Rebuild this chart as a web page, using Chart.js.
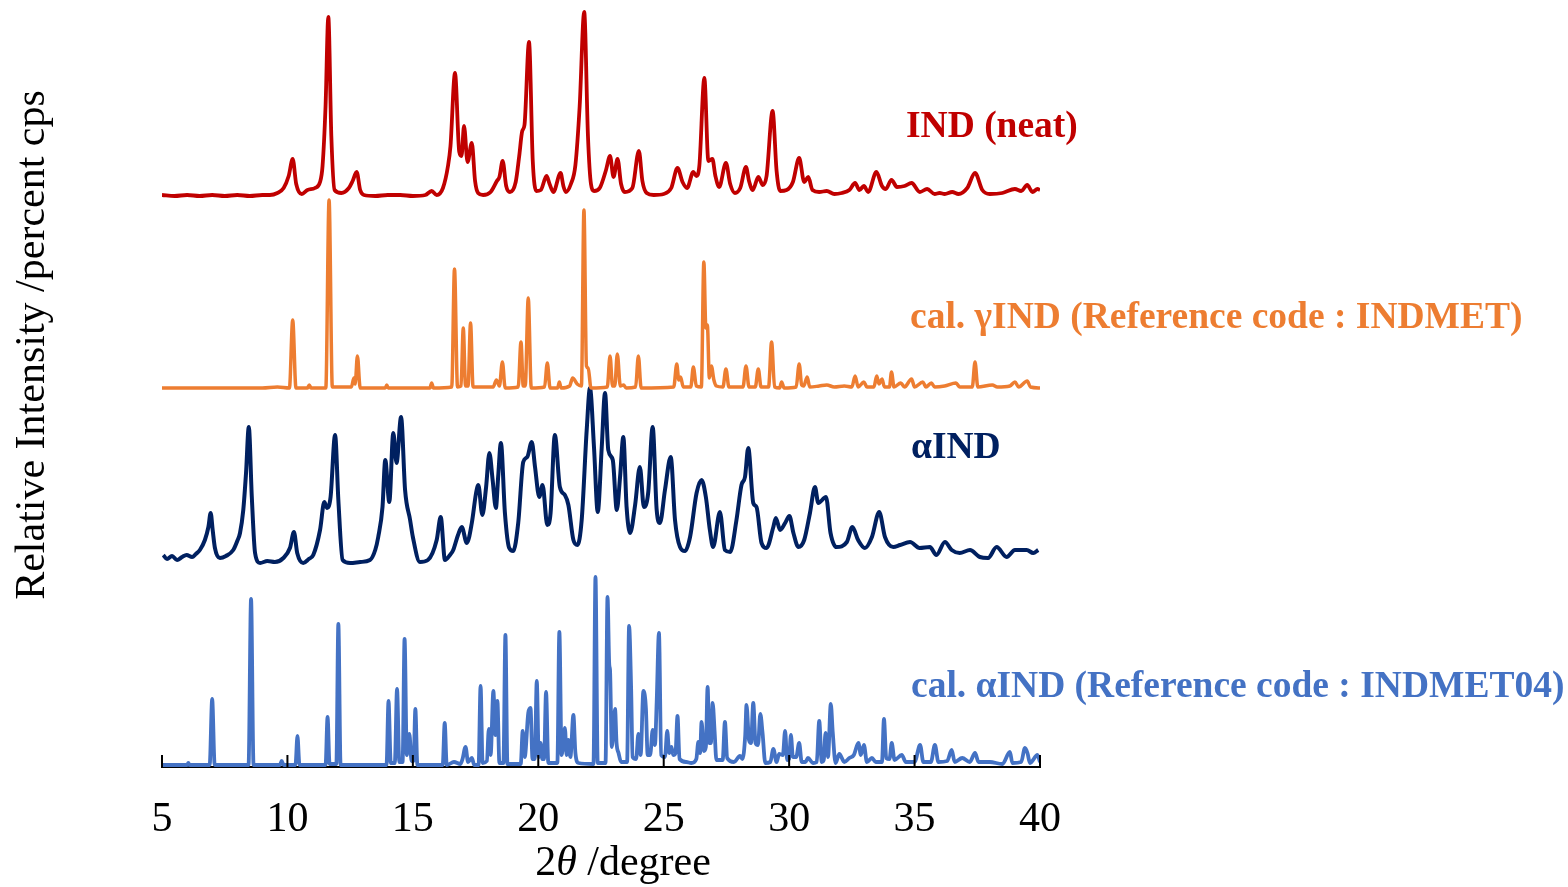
<!DOCTYPE html>
<html>
<head>
<meta charset="utf-8">
<script src="https://cdn.jsdelivr.net/npm/chart.js@4"></script>
<style>
  html, body { margin: 0; padding: 0; background: #fff; }
  #wrap { width: 1568px; height: 887px; position: relative; }
</style>
</head>
<body>
<div id="wrap"><canvas id="xrd"></canvas></div>
<script>
// 2theta (degree), intensity above each pattern's own baseline
const indNeat = [
  [5.0, 1], [5.5, 0], [6.0, 1], [6.5, 0], [7.0, 1], [7.5, 0], [8.0, 1], [8.5, 0], [9.0, 1], [9.3, 1],
  [9.6, 3], [9.85, 8], [10.05, 20], [10.21, 37], [10.35, 12], [10.57, 2], [10.8, 6], [11.1, 8], [11.3, 14],
  [11.4, 30], [11.52, 90], [11.63, 179], [11.75, 60], [11.88, 6], [12.15, 3], [12.45, 8], [12.6, 15],
  [12.76, 24], [12.9, 6], [13.05, 1], [13.5, 0], [14.0, 1], [14.5, 1], [15.0, 0], [15.5, 1], [15.75, 5],
  [15.95, 1], [16.2, 8], [16.4, 30], [16.5, 50], [16.68, 123], [16.85, 44], [16.94, 40], [17.04, 70],
  [17.18, 34], [17.35, 53], [17.48, 15], [17.6, 3], [17.8, 1], [18.1, 4], [18.35, 15], [18.45, 19],
  [18.58, 35], [18.72, 10], [18.87, 4], [19.1, 14], [19.24, 40], [19.36, 65], [19.45, 71], [19.63, 154],
  [19.78, 35], [19.92, 5], [20.1, 6], [20.33, 20], [20.45, 12], [20.6, 4], [20.89, 23], [21.0, 10],
  [21.1, 4], [21.3, 12], [21.48, 31], [21.65, 90], [21.83, 184], [21.98, 60], [22.1, 12], [22.22, 5],
  [22.45, 8], [22.7, 26], [22.86, 40], [23.0, 19], [23.16, 37], [23.3, 12], [23.45, 4], [23.75, 8],
  [24.01, 45], [24.15, 15], [24.32, 3], [24.6, 1], [25.0, 2], [25.3, 8], [25.55, 28], [25.75, 14],
  [25.93, 8], [26.18, 24], [26.3, 20], [26.42, 30], [26.62, 118], [26.78, 35], [26.94, 37], [27.06, 20],
  [27.21, 9], [27.48, 33], [27.65, 12], [27.84, 3], [28.05, 8], [28.28, 29], [28.4, 15], [28.55, 6],
  [28.77, 19], [28.95, 11], [29.1, 20], [29.34, 85], [29.5, 25], [29.64, 5], [29.9, 6], [30.15, 14],
  [30.4, 38], [30.6, 14], [30.76, 19], [30.93, 6], [31.2, 4], [31.5, 5], [31.8, 2], [32.1, 3], [32.4, 6],
  [32.63, 13], [32.8, 6], [32.98, 10], [33.15, 4], [33.48, 24], [33.7, 10], [33.85, 7], [34.08, 16],
  [34.3, 9], [34.6, 10], [34.88, 13], [35.21, 4], [35.5, 7], [35.8, 2], [36.0, 3], [36.2, 2], [36.5, 4],
  [36.75, 2], [37.1, 8], [37.41, 23], [37.7, 6], [38.0, 2], [38.5, 3], [39.0, 7], [39.25, 5], [39.49, 11],
  [39.7, 4], [39.9, 7], [40.0, 6]
];

const calGamma = [
  [5.0, 0], [9.0, 0], [9.6, 1], [10.08, 0], [10.21, 68], [10.34, 0], [10.8, 0], [10.87, 3], [10.94, 0],
  [11.53, 0], [11.66, 188], [11.79, 1], [12.55, 1], [12.65, 10], [12.7, 4], [12.79, 32], [12.9, 0],
  [13.9, 0], [13.96, 3], [14.02, 0], [15.68, 0], [15.75, 5], [15.82, 0],
  [16.55, 1], [16.66, 119], [16.78, 1], [16.92, 2], [17.01, 60], [17.1, 2], [17.2, 2], [17.3, 65],
  [17.4, 1], [18.2, 1], [18.33, 8], [18.45, 2], [18.57, 26], [18.68, 0], [19.2, 1], [19.31, 46], [19.4, 2],
  [19.48, 2], [19.6, 90], [19.72, 0], [20.25, 1], [20.36, 25], [20.47, 0], [20.77, 0], [20.84, 6], [20.91, 0],
  [21.25, 2], [21.37, 10], [21.55, 4], [21.72, 2], [21.82, 178], [21.92, 22], [21.99, 20], [22.1, 0], [22.75, 1],
  [22.86, 32], [22.96, 2], [23.05, 2], [23.15, 34], [23.27, 2], [23.4, 3], [23.5, 0], [23.88, 1],
  [23.99, 32], [24.1, 0], [25.4, 1], [25.52, 24], [25.6, 8], [25.67, 11], [25.78, 1], [26.08, 1],
  [26.18, 21], [26.3, 2], [26.5, 1], [26.6, 126], [26.68, 60], [26.74, 63], [26.82, 10], [26.9, 22],
  [27.0, 8], [27.1, 2], [27.36, 1], [27.48, 19], [27.6, 1], [28.16, 1], [28.28, 22], [28.4, 1], [28.65, 1],
  [28.77, 19], [28.88, 1], [29.18, 1], [29.3, 46], [29.42, 1], [29.62, 0], [29.7, 6], [29.8, 0], [30.28, 1], [30.4, 24],
  [30.5, 3], [30.58, 2], [30.72, 11], [30.82, 1], [31.2, 2], [31.5, 3], [31.8, 1], [32.2, 2], [32.5, 1],
  [32.63, 12], [32.75, 1], [32.98, 6], [33.1, 1], [33.38, 1], [33.49, 12], [33.58, 4], [33.7, 9], [33.8, 1],
  [34.0, 1], [34.08, 16], [34.18, 1], [34.45, 5], [34.6, 1], [34.88, 9], [35.0, 1], [35.33, 6], [35.45, 1],
  [35.67, 5], [35.8, 1], [36.2, 2], [36.65, 5], [36.8, 1], [37.3, 1], [37.41, 26], [37.52, 1], [38.1, 3],
  [38.3, 1], [38.8, 2], [39.0, 6], [39.15, 1], [39.49, 7], [39.62, 1], [40.0, 0]
];

const alphaInd = [
  [5.05, 10], [5.2, 6], [5.4, 9], [5.6, 5], [5.8, 8], [5.98, 10], [6.2, 8], [6.35, 11], [6.51, 15],
  [6.71, 25], [6.85, 38], [6.94, 52], [7.02, 35], [7.11, 17], [7.31, 7], [7.55, 9], [7.84, 15], [8.0, 24],
  [8.11, 32], [8.24, 55], [8.35, 92], [8.46, 138], [8.58, 68], [8.71, 12], [8.91, 2], [9.2, 4], [9.5, 3],
  [9.84, 7], [10.1, 17], [10.26, 33], [10.39, 12], [10.63, 2], [10.85, 6], [11.03, 10], [11.3, 35],
  [11.47, 63], [11.58, 57], [11.72, 68], [11.9, 130], [12.03, 65], [12.2, 5], [12.5, 2], [12.9, 3],
  [13.29, 5], [13.5, 15], [13.62, 28], [13.79, 58], [13.9, 105], [14.06, 63], [14.22, 132], [14.35, 102],
  [14.53, 148], [14.69, 75], [14.89, 45], [15.0, 28], [15.28, 3], [15.6, 5], [15.95, 25], [16.11, 48],
  [16.28, 5], [16.48, 10], [16.61, 15], [16.8, 30], [16.95, 38], [17.15, 22], [17.35, 42], [17.52, 72],
  [17.61, 80], [17.77, 50], [17.92, 78], [18.05, 112], [18.18, 85], [18.31, 57], [18.4, 88], [18.51, 122],
  [18.67, 52], [18.84, 17], [19.0, 14], [19.2, 42], [19.4, 103], [19.56, 108], [19.74, 123], [19.87, 98],
  [20.04, 68], [20.17, 80], [20.36, 40], [20.49, 52], [20.66, 130], [20.86, 78], [21.06, 70], [21.2, 60],
  [21.4, 25], [21.56, 20], [21.73, 45], [21.93, 135], [22.06, 177], [22.22, 118], [22.37, 53], [22.53, 118],
  [22.66, 172], [22.79, 115], [22.97, 105], [23.13, 55], [23.26, 88], [23.39, 128], [23.52, 58],
  [23.66, 32], [23.86, 60], [24.05, 98], [24.21, 58], [24.38, 72], [24.56, 138], [24.72, 55], [24.85, 42],
  [25.05, 75], [25.28, 108], [25.45, 45], [25.65, 18], [25.85, 14], [26.05, 28], [26.31, 72], [26.51, 85],
  [26.68, 68], [26.84, 35], [26.97, 18], [27.24, 53], [27.44, 15], [27.65, 13], [27.9, 45], [28.1, 80],
  [28.24, 88], [28.37, 117], [28.57, 62], [28.7, 58], [28.9, 22], [29.1, 17], [29.37, 38], [29.47, 47],
  [29.64, 35], [29.84, 42], [30.01, 49], [30.17, 32], [30.37, 18], [30.6, 25], [30.83, 52], [31.03, 78],
  [31.16, 62], [31.47, 68], [31.65, 32], [31.89, 18], [32.3, 23], [32.52, 38], [32.75, 25], [33.02, 17],
  [33.3, 28], [33.59, 53], [33.82, 28], [34.15, 18], [34.42, 20], [34.82, 23], [35.2, 17], [35.61, 18],
  [35.87, 10], [36.21, 23], [36.48, 15], [36.8, 12], [37.21, 15], [37.6, 8], [37.93, 7], [38.27, 18],
  [38.67, 8], [39.0, 15], [39.47, 15], [39.73, 12], [39.93, 15]
];

const calAlpha = [
  [5.0, 0], [6.0, 0], [6.05, 2], [6.1, 0], [6.9, 0], [7.0, 66], [7.1, 0], [8.45, 0], [8.55, 166], [8.65, 0],
  [9.7, 0], [9.77, 4], [9.85, 0], [10.32, 0], [10.4, 29], [10.48, 0], [11.52, 0], [11.6, 48], [11.68, 1],
  [11.95, 1], [12.03, 141], [12.12, 0], [13.95, 0], [14.03, 64], [14.12, 2], [14.28, 2], [14.37, 76],
  [14.46, 3], [14.59, 3], [14.67, 126], [14.76, 10], [14.86, 31], [14.95, 4], [15.03, 4], [15.1, 56],
  [15.18, 0], [16.19, 0], [16.27, 42], [16.35, 0], [16.64, 3], [16.9, 1], [16.98, 6], [17.1, 18], [17.2, 3],
  [17.35, 7], [17.45, 0], [17.62, 0], [17.7, 79], [17.78, 2], [17.95, 4], [18.03, 36], [18.1, 10],
  [18.21, 74], [18.29, 30], [18.37, 64], [18.45, 2], [18.61, 2], [18.69, 130], [18.77, 1], [19.3, 1],
  [19.38, 34], [19.46, 8], [19.6, 52], [19.69, 57], [19.77, 6], [19.86, 6], [19.94, 84], [20.02, 8],
  [20.09, 22], [20.16, 6], [20.23, 6], [20.31, 73], [20.4, 2], [20.76, 2], [20.84, 133], [20.93, 10],
  [21.06, 37], [21.13, 10], [21.2, 25], [21.28, 8], [21.4, 50], [21.48, 12], [21.6, 2], [22.2, 1],
  [22.28, 188], [22.37, 2], [22.68, 2], [22.76, 168], [22.83, 100], [22.86, 95], [22.93, 18], [23.06, 56],
  [23.12, 22], [23.2, 12], [23.3, 3], [23.54, 3], [23.62, 139], [23.7, 78], [23.76, 8], [23.9, 6],
  [23.99, 31], [24.08, 10], [24.19, 74], [24.29, 57], [24.36, 10], [24.46, 10], [24.56, 35], [24.65, 20],
  [24.72, 63], [24.81, 132], [24.9, 10], [25.05, 8], [25.14, 34], [25.22, 12], [25.31, 18], [25.38, 10],
  [25.47, 12], [25.55, 49], [25.63, 6], [25.9, 3], [26.1, 2], [26.3, 6], [26.38, 23], [26.45, 12],
  [26.51, 43], [26.6, 14], [26.68, 18], [26.75, 78], [26.82, 22], [26.88, 22], [26.95, 62], [27.03, 33],
  [27.1, 5], [27.35, 5], [27.44, 43], [27.53, 7], [27.8, 3], [28.04, 9], [28.14, 6], [28.25, 30], [28.3, 60],
  [28.4, 25], [28.48, 22], [28.57, 62], [28.66, 22], [28.76, 20], [28.85, 51], [28.94, 32], [29.05, 2],
  [29.25, 3], [29.37, 16], [29.5, 3], [29.6, 11], [29.75, 10], [29.84, 34], [29.92, 5], [30.0, 6],
  [30.07, 30], [30.15, 8], [30.28, 8], [30.4, 22], [30.5, 3], [30.65, 3], [30.75, 7], [30.95, 2], [31.1, 3],
  [31.2, 44], [31.3, 3], [31.38, 5], [31.45, 32], [31.55, 8], [31.66, 61], [31.74, 32], [31.85, 2],
  [32.0, 11], [32.2, 3], [32.4, 7], [32.58, 10], [32.76, 22], [32.86, 10], [32.98, 20], [33.1, 3], [33.3, 7],
  [33.45, 3], [33.7, 3], [33.78, 46], [33.87, 7], [34.0, 6], [34.09, 22], [34.2, 5], [34.49, 10], [34.65, 3],
  [35.0, 3], [35.22, 20], [35.35, 3], [35.65, 3], [35.81, 20], [35.95, 3], [36.3, 4], [36.48, 15],
  [36.6, 3], [36.9, 7], [37.2, 3], [37.41, 12], [37.55, 3], [38.0, 3], [38.5, 1], [38.8, 13], [38.9, 2],
  [39.25, 3], [39.4, 17], [39.5, 12], [39.6, 2], [39.9, 10], [40.0, 3]
];

const xTicks = [5, 10, 15, 20, 25, 30, 35, 40];

const series = [
  { label: 'IND (neat)', data: indNeat, offset: 571, color: '#C00000', width: 3.8 },
  { label: 'cal. γIND (Reference code : INDMET)', data: calGamma, offset: 379, color: '#ED7D31', width: 3.5 },
  { label: 'αIND', data: alphaInd, offset: 202, color: '#002060', width: 4 },
  { label: 'cal. αIND (Reference code : INDMET04)', data: calAlpha, offset: 2, color: '#4472C4', width: 3.8 }
];

// where the series names sit (canvas px)
const namePos = [[906, 127], [910, 318], [911, 448], [911, 687]];

const serif = "'Liberation Serif', 'Times New Roman', serif";

const decor = {
  id: 'decor',
  afterDatasetsDraw(chart) {
    const ctx = chart.ctx;
    const xs = chart.scales.x;
    const bottom = chart.chartArea.bottom;
    ctx.save();
    // inward tick marks
    ctx.strokeStyle = '#000';
    ctx.lineWidth = 2;
    xTicks.forEach(v => {
      const px = xs.getPixelForValue(v);
      ctx.beginPath();
      ctx.moveTo(px, bottom);
      ctx.lineTo(px, bottom - 12);
      ctx.stroke();
    });
    // series names
    ctx.font = 'bold 37.5px ' + serif;
    ctx.textBaseline = 'middle';
    ctx.textAlign = 'left';
    series.forEach((s, i) => {
      ctx.fillStyle = s.color;
      ctx.fillText(s.label, namePos[i][0], namePos[i][1]);
    });
    // y title
    ctx.fillStyle = '#000';
    ctx.font = '42px ' + serif;
    ctx.translate(33, 345);
    ctx.rotate(-Math.PI / 2);
    ctx.textAlign = 'center';
    ctx.fillText('Relative Intensity /percent cps', 0, 0);
    ctx.restore();

    // x title: 2θ /degree with italic theta
    ctx.save();
    ctx.fillStyle = '#000';
    ctx.textBaseline = 'middle';
    ctx.textAlign = 'left';
    const parts = [['2', '42px '], ['θ', 'italic 42px '], [' /degree', '42px ']];
    let total = 0;
    parts.forEach(p => { ctx.font = p[1] + serif; total += ctx.measureText(p[0]).width; });
    let x = 623 - total / 2;
    parts.forEach(p => {
      ctx.font = p[1] + serif;
      ctx.fillText(p[0], x, 864);
      x += ctx.measureText(p[0]).width;
    });
    ctx.restore();
  }
};

new Chart(document.getElementById('xrd'), {
  type: 'line',
  data: {
    datasets: series.map(s => ({
      label: s.label,
      data: s.data.map(p => ({ x: p[0], y: p[1] + s.offset })),
      borderColor: s.color,
      borderWidth: s.width,
      pointRadius: 0,
      fill: false,
      cubicInterpolationMode: 'monotone'
    }))
  },
  options: {
    responsive: true,
    maintainAspectRatio: false,
    animation: false,
    layout: { padding: { left: 162, right: 528, top: 7, bottom: 0 } },
    plugins: { legend: { display: false }, tooltip: { enabled: false } },
    scales: {
      x: {
        type: 'linear',
        min: 5,
        max: 40,
        border: { display: true, color: '#000', width: 2 },
        grid: { display: false, drawTicks: false },
        ticks: {
          stepSize: 5,
          padding: 28,
          color: '#000',
          font: { family: serif, size: 42 }
        },
        afterFit(scale) { scale.height = 120; }
      },
      y: {
        display: false,
        min: 0,
        max: 760
      }
    }
  },
  plugins: [decor]
});
</script>
</body>
</html>
